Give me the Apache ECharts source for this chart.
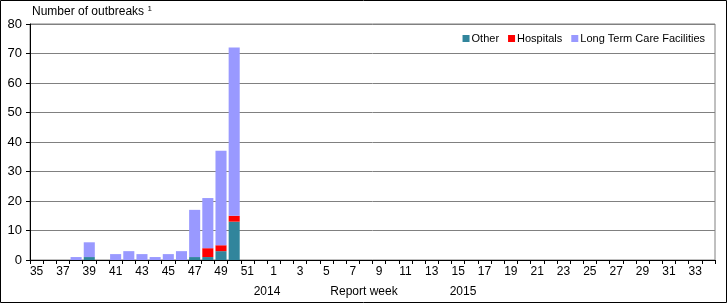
<!DOCTYPE html>
<html>
<head>
<meta charset="utf-8">
<script src="https://cdn.jsdelivr.net/npm/echarts@6/dist/echarts.min.js"></script>
<style>html,body{margin:0;padding:0;background:#fff}#c{width:728px;height:304px}</style>
</head>
<body>
<div id="c"></div>
<script>
var weeks = ['35','36','37','38','39','40','41','42','43','44','45','46','47','48','49','50','51','52',
  '1','2','3','4','5','6','7','8','9','10','11','12','13','14','15','16','17','18','19','20','21','22','23','24','25','26','27','28','29','30','31','32','33','34'];
var other     = [0,0,0,0,1,0,0,0,0,0,0,0,1,1,3,13,null,null];
var hospitals = [0,0,0,0,0,0,0,0,0,0,0,0,0,3,2,2,null,null];
var ltcf      = [0,0,0,1,5,0,2,3,2,1,2,3,16,17,32,57,null,null];
var yTicks = [0,10,20,30,40,50,60,70,80];
var seriesNames = ['Other','Hospitals','Long Term Care Facilities'];
var colors = ['#31859C','#FF0000','#9999FF'];
var font = 'Liberation Sans, Arial, sans-serif';

var chart = echarts.init(document.getElementById('c'), null, {renderer:'canvas'});
var dataSets = [other, hospitals, ltcf];
chart.setOption({
  animation: false,
  textStyle: {fontFamily: font},
  grid: {left: 30, right: 13, top: 24, bottom: 44, show: true, borderColor: '#808080', borderWidth: 1, backgroundColor: 'transparent'},
  legend: {
    data: seriesNames, right: 18, top: 28, itemWidth: 7, itemHeight: 7, itemGap: 9,
    icon: 'rect', textStyle: {fontFamily: font, fontSize: 11, color: '#000', padding: [0,0,0,-3]}
  },
  xAxis: {
    type: 'category', data: weeks,
    axisLine: {lineStyle: {color: '#000', width: 1}},
    axisTick: {show: true, interval: 0, length: 4, lineStyle: {color: '#000'}},
    axisLabel: {interval: 1, color: '#000', fontSize: 12, fontFamily: font, margin: 6}
  },
  yAxis: {
    type: 'value', min: 0, max: 80, interval: 10,
    axisLine: {show: true, lineStyle: {color: '#000', width: 1}},
    axisTick: {show: true, length: 4, lineStyle: {color: '#000'}},
    axisLabel: {color: '#000', fontSize: 13, fontFamily: font, margin: 8},
    splitLine: {lineStyle: {color: '#808080', width: 1}}
  },
  series: seriesNames.map(function(n, i){
    return {name: n, type: 'bar', stack: 'a', data: dataSets[i], barCategoryGap: '16%',
      itemStyle: {color: colors[i]}};
  }),
  graphic: [
    {type: 'rect', shape: {x: 0.5, y: 0.5, width: 726, height: 302}, style: {fill: 'none', stroke: '#000', lineWidth: 1}, silent: true},
    {type: 'text', left: 32, top: 5, style: {text: '{a|Number of outbreaks }{s|1}', rich: {a: {fontSize: 12, fontFamily: font, fill: '#000'}, s: {fontSize: 8, fontFamily: font, fill: '#000', verticalAlign: 'top', padding: [0,0,6,0]}}}},
    {type: 'text', x: 267, y: 292, style: {text: '2014', fontSize: 12, fontFamily: font, fill: '#000', align: 'center', verticalAlign: 'middle'}},
    {type: 'text', x: 364, y: 292, style: {text: 'Report week', fontSize: 12, fontFamily: font, fill: '#000', align: 'center', verticalAlign: 'middle'}},
    {type: 'text', x: 463, y: 292, style: {text: '2015', fontSize: 12, fontFamily: font, fill: '#000', align: 'center', verticalAlign: 'middle'}}
  ]
});
</script>
</body>
</html>
